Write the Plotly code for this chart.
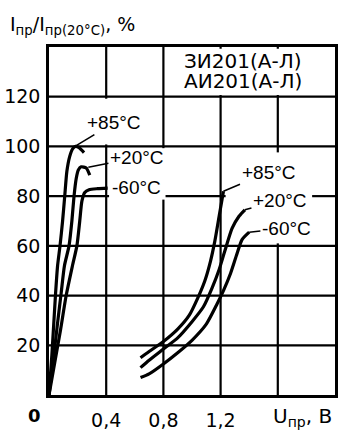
import plotly.graph_objects as go

# ---- data ----
temps = ["+85°C", "+20°C", "-60°C"]

# left family (ЗИ201)
left_v_85 = [0, 0.02, 0.045, 0.06, 0.077, 0.095, 0.11, 0.125, 0.145, 0.165, 0.185, 0.21, 0.245]
left_i_85 = [0, 16, 40, 52, 60, 70, 80, 90, 96, 99, 100, 99.5, 97.5]
left_v_20 = [0, 0.03, 0.06, 0.085, 0.108, 0.14, 0.16, 0.175, 0.19, 0.205, 0.225, 0.26, 0.285]
left_i_20 = [0, 14, 29, 41, 52, 60, 70, 80, 87, 90.5, 91.8, 91.3, 88.5]
left_v_m60 = [0, 0.04, 0.08, 0.12, 0.164, 0.195, 0.215, 0.23, 0.25, 0.28, 0.34, 0.41]
left_i_m60 = [0, 13, 26, 40, 52, 60, 70, 78, 81.5, 82.6, 83, 83.2]

# right family (АИ201)
right_v_85 = [0.64, 0.70, 0.80, 0.90, 0.98, 1.04, 1.09, 1.13, 1.16, 1.19, 1.22]
right_i_85 = [15, 17.5, 21.5, 26.5, 32, 39, 46, 54, 62, 72, 82]
right_v_20 = [0.64, 0.70, 0.80, 0.90, 1.00, 1.08, 1.14, 1.19, 1.23, 1.28, 1.33, 1.37]
right_i_20 = [11, 14, 18.5, 23, 29.5, 35.5, 43, 50.5, 58, 67, 72, 74.5]
right_v_m60 = [0.64, 0.70, 0.80, 0.90, 1.00, 1.10, 1.17, 1.22, 1.27, 1.31, 1.35, 1.40]
right_i_m60 = [7, 8.5, 12.5, 17, 22, 28.5, 36, 42, 49, 56, 62.5, 65.5]

x_tickvals = [0.4, 0.8, 1.2, 1.6]
x_ticktext = ["0,4", "0,8", "1,2", ""]
y_tickvals = [20, 40, 60, 80, 100, 120]
y_ticktext = ["20", "40", "60", "80", "100", "120"]

X_RANGE = [0, 2.0]
Y_RANGE = [0, 140]

NUM_FONT = "DejaVu Sans"
LBL_FONT = "Liberation Sans, Arial, sans-serif"

# areas where the grid is interrupted by labels (x0, x1, y0, y1)
gaps = [
    (0.30, 0.58, 100.8, 119.2),
    (0.42, 0.815, 78.6, 99.3),
    (1.235, 1.84, 61.0, 97.6),
    (0.82, 1.985, 120.7, 139.3),
]


def split(lo, hi, cuts):
    """Return [lo,hi] minus the list of (a,b) intervals."""
    segs = [(lo, hi)]
    for a, b in sorted(cuts):
        new = []
        for s, e in segs:
            if b <= s or a >= e:
                new.append((s, e))
            else:
                if a > s:
                    new.append((s, a))
                if b < e:
                    new.append((b, e))
        segs = new
    return segs


fig = go.Figure()

# grid as thin filled bars (pixel-sized thickness), with gaps behind labels
for gx in x_tickvals:
    cuts = [(y0, y1) for x0, x1, y0, y1 in gaps if x0 < gx < x1]
    for s, e in split(Y_RANGE[0], Y_RANGE[1], cuts):
        fig.add_shape(type="rect", xref="x", yref="y", xsizemode="pixel", xanchor=gx,
                      x0=-1.1, x1=1.1, y0=s, y1=e,
                      fillcolor="black", line=dict(width=0), layer="below")
for gy in y_tickvals:
    cuts = [(x0, x1) for x0, x1, y0, y1 in gaps if y0 < gy < y1]
    for s, e in split(X_RANGE[0], X_RANGE[1], cuts):
        fig.add_shape(type="rect", xref="x", yref="y", ysizemode="pixel", yanchor=gy,
                      y0=-1.1, y1=1.1, x0=s, x1=e,
                      fillcolor="black", line=dict(width=0), layer="below")

curves = [
    (left_v_85, left_i_85), (left_v_20, left_i_20), (left_v_m60, left_i_m60),
    (right_v_85, right_i_85), (right_v_20, right_i_20), (right_v_m60, right_i_m60),
]
for vx, iy in curves:
    fig.add_trace(go.Scatter(
        x=vx, y=iy, mode="lines",
        line=dict(color="black", width=3.2, shape="spline", smoothing=0.6),
        hoverinfo="skip", showlegend=False,
    ))

# temperature labels with leader lines: (tip_x, tip_y, text_x, text_y)
left_labels = [
    (0.19, 100.3, 0.455, 109.6),
    (0.275, 91.6, 0.615, 95.6),
    (None, None, 0.61, 83.4),
]
right_labels = [
    (1.22, 82.0, 1.535, 89.6),
    (1.37, 74.5, 1.615, 78.3),
    (1.40, 65.5, 1.66, 67.0),
]
for group in (left_labels, right_labels):
    for t, (tx, ty, lx, ly) in zip(temps, group):
        if tx is None:
            fig.add_annotation(x=lx, y=ly, xref="x", yref="y", text=t, showarrow=False,
                               font=dict(family=LBL_FONT, size=19, color="black"))
        else:
            fig.add_annotation(x=tx, y=ty, xref="x", yref="y", ax=lx, ay=ly,
                               axref="x", ayref="y", text=t, showarrow=True,
                               arrowhead=0, arrowwidth=1.6, arrowcolor="black",
                               standoff=0, startstandoff=0,
                               font=dict(family=LBL_FONT, size=19, color="black"))

# device type text in top row
fig.add_annotation(x=1.36, y=134.2, xref="x", yref="y", text="ЗИ201(А-Л)", showarrow=False,
                   font=dict(family=NUM_FONT, size=20, color="black"))
fig.add_annotation(x=1.36, y=126.5, xref="x", yref="y", text="АИ201(А-Л)", showarrow=False,
                   font=dict(family=NUM_FONT, size=20, color="black"))

# axis titles
fig.add_annotation(x=-0.143, y=1.062, xref="paper", yref="paper", xanchor="left", yanchor="middle",
                   text="I<sub>пр</sub>/I<sub>пр(20°C)</sub>, %", showarrow=False,
                   font=dict(family=NUM_FONT, size=19, color="black"))
fig.add_annotation(x=0.885, y=0, xref="paper", yref="paper", xanchor="center", yanchor="top",
                   yshift=-7, text="U<sub>пр</sub>, В", showarrow=False,
                   font=dict(family=NUM_FONT, size=20, color="black"))
fig.add_annotation(x=-0.049, y=0, xref="paper", yref="paper", xanchor="center", yanchor="top",
                   yshift=-8, text="<b>0</b>", showarrow=False,
                   font=dict(family=NUM_FONT, size=18, color="black"))

fig.update_xaxes(range=X_RANGE, tickvals=x_tickvals, ticktext=x_ticktext,
                 showgrid=False, automargin=False,
                 showline=True, linecolor="black", linewidth=2.5, mirror=True,
                 zeroline=False, ticks="outside", ticklen=6, tickcolor="white",
                 tickfont=dict(family=NUM_FONT, size=19, color="black"))
fig.update_yaxes(range=Y_RANGE, tickvals=y_tickvals, ticktext=y_ticktext,
                 showgrid=False, automargin=False,
                 showline=True, linecolor="black", linewidth=2.5, mirror=True,
                 zeroline=False, ticks="outside", ticklen=2, tickcolor="white",
                 tickfont=dict(family=NUM_FONT, size=19, color="black"))

fig.update_layout(
    width=357, height=438,
    margin=dict(l=49, r=22, t=47, b=43),
    paper_bgcolor="white", plot_bgcolor="white",
    showlegend=False,
)

fig.write_html("out.html", config={"displayModeBar": False},
               post_script="document.body.style.margin='0';")
